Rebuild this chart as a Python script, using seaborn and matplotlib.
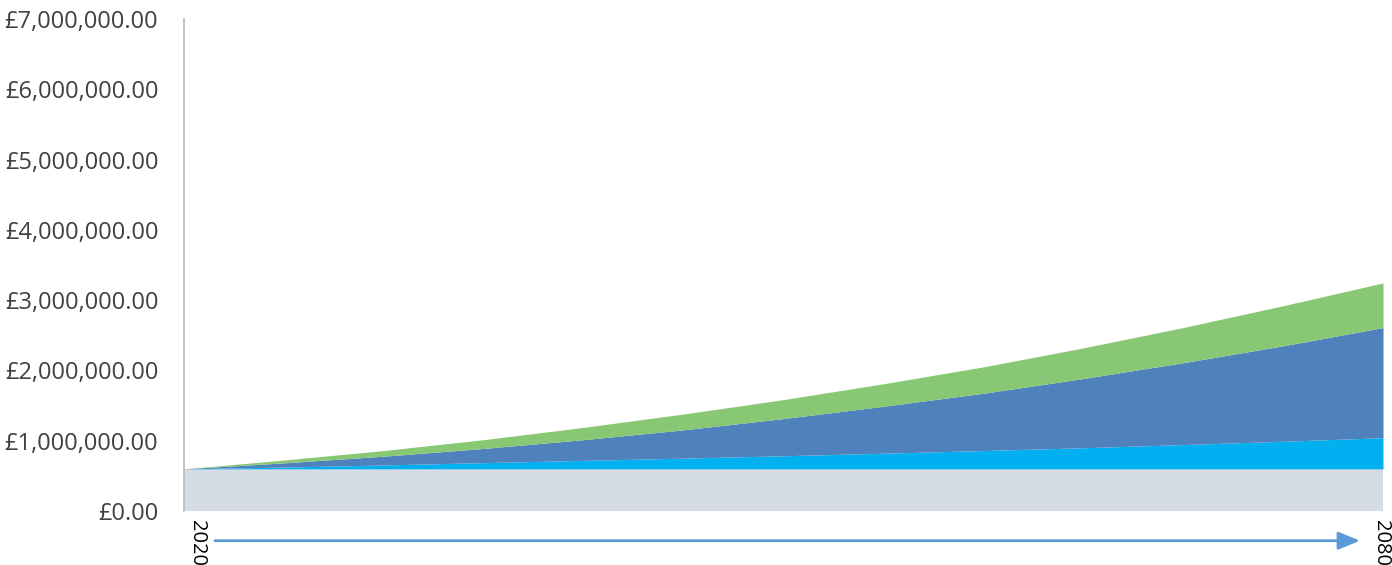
import matplotlib
matplotlib.use("Agg")
import matplotlib.pyplot as plt
import matplotlib.transforms as mtransforms
import seaborn as sns
import numpy as np
from matplotlib.ticker import FuncFormatter

# ---- data ----
years = [2020, 2025, 2030, 2035, 2040, 2045, 2050, 2055, 2060, 2065, 2070, 2075, 2080]
base_value = [600000] * 13
cyan_top = [600000, 625000, 655000, 688000, 720000, 752000, 786000, 822000, 860000, 900000, 945000, 992000, 1043000]
blue_top = [600000, 685000, 780000, 890000, 1015000, 1155000, 1315000, 1490000, 1675000, 1885000, 2110000, 2350000, 2610000]
green_top = [600000, 725000, 860000, 1015000, 1190000, 1380000, 1585000, 1810000, 2050000, 2320000, 2610000, 2920000, 3245000]
x_tick_labels = ["2020", "2080"]
y_ticks = [0, 1000000, 2000000, 3000000, 4000000, 5000000, 6000000, 7000000]

layer_cyan = list(np.array(cyan_top) - np.array(base_value))
layer_blue = list(np.array(blue_top) - np.array(cyan_top))
layer_green = list(np.array(green_top) - np.array(blue_top))

sns.set_theme(style="white")
plt.rcParams['font.family'] = ['Open Sans', 'DejaVu Sans']

fig = plt.figure(figsize=(13.92, 5.65), dpi=100)
ax = fig.add_axes([184/1392, 1-511/565, (1383-184)/1392, (511-19)/565])

colors = ["#D6DCE5", "#00B0F0", "#4F81BD", "#88C774"]
ax.stackplot(years, base_value, layer_cyan, layer_blue, layer_green,
             colors=colors, linewidth=0)

ax.set_xlim(years[0], years[-1])
ax.set_ylim(0, 7000000)
ax.set_yticks(y_ticks)
ax.yaxis.set_major_formatter(FuncFormatter(lambda v, p: "£{:,.2f}".format(v)))
ax.set_xticks([years[0], years[-1]])
ax.set_xticklabels(x_tick_labels, rotation=-90, va="top", ha="center")

ax.tick_params(axis="y", labelsize=17, labelcolor="#404040", length=0, pad=18.5)
ax.tick_params(axis="x", labelsize=14.5, labelcolor="#000000", length=0, pad=6.5)

# per-label horizontal offsets as in the reference
offsets_px = [13, -2]
for lab, dx in zip(ax.get_xticklabels(), offsets_px):
    lab.set_transform(lab.get_transform() + mtransforms.ScaledTranslation(dx/100, 0, fig.dpi_scale_trans))

sns.despine(ax=ax, top=True, right=True, bottom=True, left=False)
ax.spines["left"].set_color("#BFBFBF")
ax.spines["left"].set_linewidth(1.3)
ax.grid(False)

# timeline arrow under the axis
ax.annotate("", xy=((1360-184)/1199, -0.0604), xycoords="axes fraction",
            xytext=((215-184)/1199, -0.0604), textcoords="axes fraction",
            arrowprops=dict(arrowstyle="-|>,head_length=1.1,head_width=0.45",
                            color="#5B9BD5", lw=2, shrinkA=0, shrinkB=0),
            annotation_clip=False)

fig.savefig("out.png", dpi=100)
